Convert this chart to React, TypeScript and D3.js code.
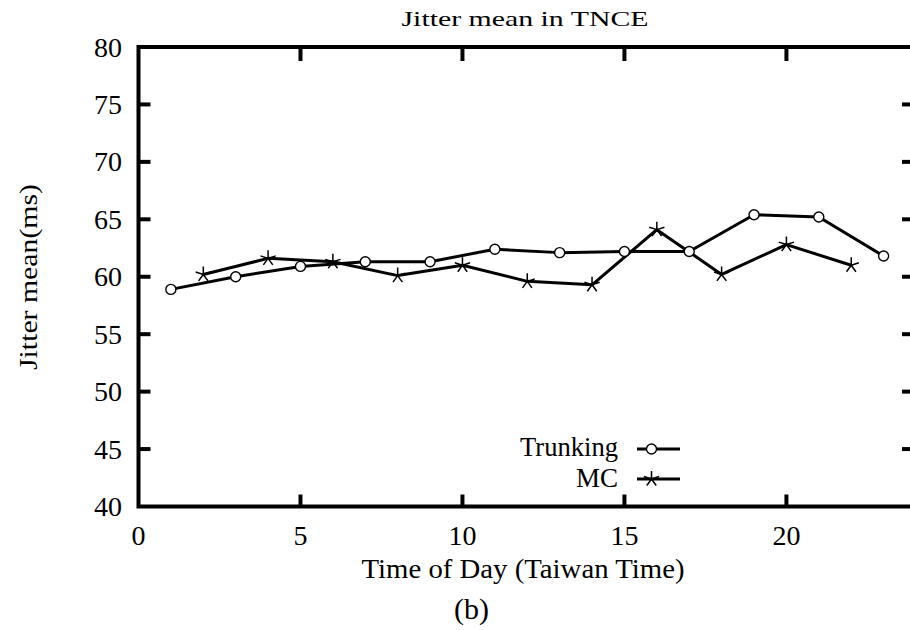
import React from "react";
import * as d3 from "d3";

// Hour of day for each series
const trunkingHours = [1, 3, 5, 7, 9, 11, 13, 15, 17, 19, 21, 23];
const trunkingJitter = [58.9, 60.0, 60.9, 61.3, 61.3, 62.4, 62.1, 62.2, 62.2, 65.4, 65.2, 61.8];

const mcHours = [2, 4, 6, 8, 10, 12, 14, 16, 18, 20, 22];
const mcJitter = [60.2, 61.6, 61.3, 60.1, 61.0, 59.6, 59.3, 64.1, 60.2, 62.8, 61.0];

const xTicks = [0, 5, 10, 15, 20];
const yTicks = [40, 45, 50, 55, 60, 65, 70, 75, 80];

const W = 910;
const H = 630;
const FONT = '"Liberation Serif"';

const plot = { left: 138.5, right: 916, top: 47, bottom: 506.5 };

const x = d3.scaleLinear().domain([0, 24]).range([plot.left, plot.right]);
const y = d3.scaleLinear().domain([40, 80]).range([plot.bottom, plot.top]);

const line = d3
  .line<[number, number]>()
  .x((d) => x(d[0]))
  .y((d) => y(d[1]));

function starPath(cx: number, cy: number, r: number) {
  let p = "";
  for (let i = 0; i < 5; i++) {
    const a = -Math.PI / 2 + (i * 2 * Math.PI) / 5;
    p += `M${cx},${cy}L${cx + r * Math.cos(a)},${cy + r * Math.sin(a)}`;
  }
  return p;
}

function Circle({ cx, cy }: { cx: number; cy: number }) {
  return <circle cx={cx} cy={cy} r={5} fill="white" stroke="black" strokeWidth={1.4} />;
}

function Star({ cx, cy }: { cx: number; cy: number }) {
  return <path d={starPath(cx, cy, 8)} stroke="black" strokeWidth={1.5} fill="none" />;
}

const textStyle = { fontFamily: FONT };

export default function App() {
  const tData = trunkingHours.map((h, i) => [h, trunkingJitter[i]] as [number, number]);
  const mData = mcHours.map((h, i) => [h, mcJitter[i]] as [number, number]);
  const tickLen = 12;

  return (
    <svg width={W} height={H} style={{ position: "absolute", left: 0, top: 0, background: "white" }}>
      <rect width={W} height={H} fill="white" />

      {/* ticks on all four sides */}
      {yTicks.slice(1, -1).map((t) => (
        <g key={"yt" + t}>
          <line x1={plot.left} x2={plot.left + tickLen} y1={y(t)} y2={y(t)} stroke="black" strokeWidth={4} />
          <line x1={plot.right} x2={plot.right - tickLen - 2} y1={y(t)} y2={y(t)} stroke="black" strokeWidth={4} />
        </g>
      ))}
      {xTicks.slice(1).map((t) => (
        <g key={"xt" + t}>
          <line x1={x(t)} x2={x(t)} y1={plot.bottom} y2={plot.bottom - tickLen} stroke="black" strokeWidth={4} />
          <line x1={x(t)} x2={x(t)} y1={plot.top} y2={plot.top + tickLen + 2} stroke="black" strokeWidth={4} />
        </g>
      ))}

      {/* frame */}
      <rect
        x={plot.left}
        y={plot.top}
        width={plot.right - plot.left}
        height={plot.bottom - plot.top}
        fill="none"
        stroke="black"
        strokeWidth={4}
      />

      {/* tick labels */}
      {yTicks.map((t) => (
        <text key={"yl" + t} x={122} y={y(t) + 9.5} textAnchor="end" fontSize={28} style={textStyle}>
          {t}
        </text>
      ))}
      {xTicks.map((t) => (
        <text key={"xl" + t} x={x(t)} y={545} textAnchor="middle" fontSize={28} style={textStyle}>
          {t}
        </text>
      ))}

      {/* titles */}
      <text x={525} y={26} textAnchor="middle" fontSize={21} textLength={247} lengthAdjust="spacingAndGlyphs" style={textStyle}>
        Jitter mean in TNCE
      </text>
      <text x={523} y={578} textAnchor="middle" fontSize={27} textLength={323} lengthAdjust="spacingAndGlyphs" style={textStyle}>
        Time of Day (Taiwan Time)
      </text>
      <text x={471.5} y={619} textAnchor="middle" fontSize={30} style={textStyle}>
        (b)
      </text>
      <text
        transform={`translate(37,${277}) rotate(-90)`}
        textAnchor="middle"
        fontSize={26}
        textLength={186}
        lengthAdjust="spacingAndGlyphs"
        style={textStyle}
      >
        Jitter mean(ms)
      </text>

      {/* series */}
      <path d={line(tData) || ""} fill="none" stroke="black" strokeWidth={3} strokeLinejoin="round" />
      <path d={line(mData) || ""} fill="none" stroke="black" strokeWidth={3} strokeLinejoin="round" />
      {tData.map((d, i) => (
        <Circle key={"c" + i} cx={x(d[0])} cy={y(d[1])} />
      ))}
      {mData.map((d, i) => (
        <Star key={"s" + i} cx={x(d[0])} cy={y(d[1])} />
      ))}

      {/* legend */}
      <text x={618} y={456} textAnchor="end" fontSize={27} textLength={98} lengthAdjust="spacingAndGlyphs" style={textStyle}>
        Trunking
      </text>
      <line x1={637} x2={680} y1={449} y2={449} stroke="black" strokeWidth={3} />
      <Circle cx={651.5} cy={449} />
      <text x={618} y={487} textAnchor="end" fontSize={27} style={textStyle}>
        MC
      </text>
      <line x1={637} x2={680} y1={479} y2={479} stroke="black" strokeWidth={3} />
      <Star cx={651.5} cy={479} />
    </svg>
  );
}
